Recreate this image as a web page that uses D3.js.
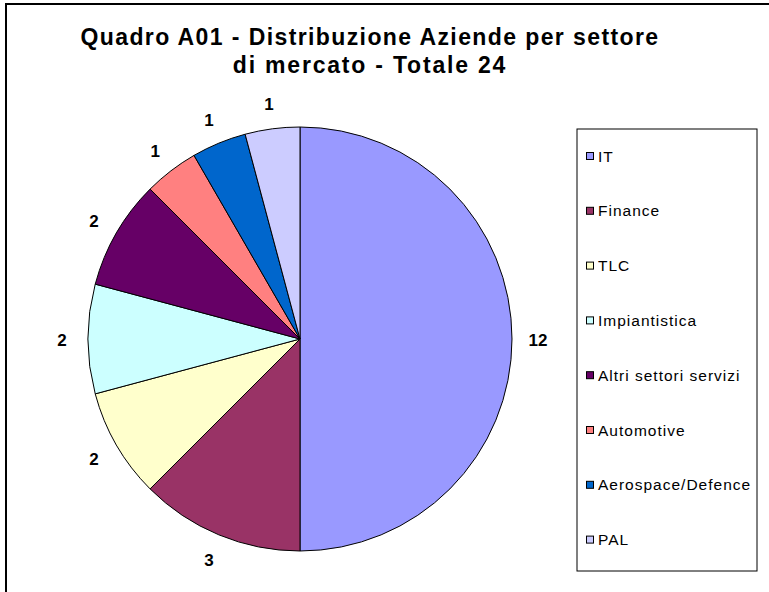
<!DOCTYPE html>
<html>
<head>
<meta charset="utf-8">
<script src="https://cdn.jsdelivr.net/npm/d3@7"></script>
<style>
  body { margin: 0; background: #fff; }
  svg { font-family: Arial, "Liberation Sans", sans-serif; }
</style>
</head>
<body>
<div class="canva"></div>
<script>
// data
const sectors = ["IT", "Finance", "TLC", "Impiantistica", "Altri settori servizi", "Automotive", "Aerospace/Defence", "PAL"];
const counts = [12, 3, 2, 2, 2, 1, 1, 1];
const sectorColors = ["#9999FF", "#993366", "#FFFFCC", "#CCFFFF", "#660066", "#FF8080", "#0066CC", "#CCCCFF"];
const titleLines = ["Quadro A01 - Distribuzione Aziende per settore", "di mercato - Totale 24"];

const width = 769, height = 592;

const svg = d3.select(".canva").append("svg")
    .attr("width", width)
    .attr("height", height);

// outer frame (runs off the right and bottom)
svg.append("rect")
    .attr("x", 6).attr("y", 4)
    .attr("width", 800).attr("height", 700)
    .attr("fill", "#fff")
    .attr("stroke", "#000")
    .attr("stroke-width", 2);

// title
svg.append("g").selectAll("text")
    .data(titleLines)
    .enter().append("text")
    .attr("x", 370)
    .attr("y", (d, i) => 45 + i * 28)
    .attr("text-anchor", "middle")
    .attr("font-size", 23)
    .attr("font-weight", "bold")
    .attr("letter-spacing", (d, i) => i ? 1.8 : 1.4)
    .text(d => d);

const color = d3.scaleOrdinal().domain(sectors).range(sectorColors);

const cx = 300, cy = 339, radius = 212;
const pieGroup = svg.append("g").attr("transform", `translate(${cx},${cy})`);

const pie = d3.pie().sort(null).value(d => d.value);
const slices = pie(sectors.map((s, i) => ({name: s, value: counts[i]})));

const arc = d3.arc().innerRadius(0).outerRadius(radius);
const labelArc = d3.arc().innerRadius(238).outerRadius(238);

pieGroup.selectAll("path")
    .data(slices)
    .enter().append("path")
    .attr("d", arc)
    .attr("fill", d => color(d.data.name))
    .attr("stroke", "#000")
    .attr("stroke-width", 1);

pieGroup.selectAll("text")
    .data(slices)
    .enter().append("text")
    .attr("transform", d => `translate(${labelArc.centroid(d)})`)
    .attr("text-anchor", "middle")
    .attr("dy", "0.4em")
    .attr("font-size", 17)
    .attr("font-weight", "bold")
    .text(d => d.data.value);

// legend
const legend = svg.append("g").attr("transform", "translate(577,129)");
legend.append("rect")
    .attr("width", 180).attr("height", 442)
    .attr("fill", "#fff")
    .attr("stroke", "#000")
    .attr("stroke-width", 1);

const item = legend.selectAll(".item")
    .data(sectors)
    .enter().append("g")
    .attr("class", "item")
    .attr("transform", (d, i) => `translate(0,${27 + i * 54.8})`);

item.append("rect")
    .attr("x", 9.5).attr("y", -3.5)
    .attr("width", 7).attr("height", 7)
    .attr("fill", d => color(d))
    .attr("stroke", "#000")
    .attr("stroke-width", 1);

item.append("text")
    .attr("x", 21)
    .attr("dy", "0.36em")
    .attr("font-size", 15.5)
    .attr("letter-spacing", 1)
    .text(d => d);
</script>
</body>
</html>
